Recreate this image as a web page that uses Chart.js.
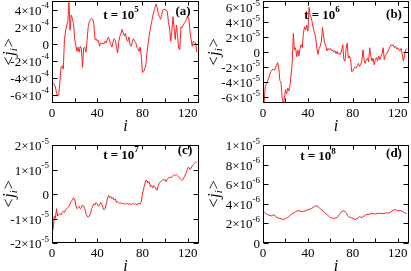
<!DOCTYPE html>
<html><head><meta charset="utf-8">
<script src="https://cdn.jsdelivr.net/npm/chart.js@4"></script>
<style>
body{margin:0;background:#fff;width:411px;height:271px;overflow:hidden;position:relative}
canvas{position:absolute}
</style></head><body>
<canvas id="ca" width="205" height="135" style="left:0;top:0"></canvas>
<canvas id="cb" width="206" height="135" style="left:205px;top:0"></canvas>
<canvas id="cc" width="205" height="136" style="left:0;top:135px"></canvas>
<canvas id="cd" width="206" height="136" style="left:205px;top:135px"></canvas>
<script>
// x tick labels
const xTicks = [0, 40, 80, 120];
const xMinor = [20, 60, 100];

// panel (a): t = 10^5, values in units of 1e-4 (i = 1..128)
const aVals = [-4.6,-4.8,-5.1,-5.8,-6.2,-5.9,-4.5,-2.8,-2.6,-3.0,0.5,1.5,2.2,2.6,4.9,1.6,3.4,3.0,2.4,0.6,
 -0.2,-0.9,-0.4,-1.0,-0.3,-0.6,-2.8,-0.5,-0.4,-1.0,0.4,2.0,2.6,2.9,3.0,2.9,2.3,0.5,0.6,0.3,
 0.4,-0.3,0.1,0.0,0.1,0.0,0.3,0.1,0.6,0.8,0.3,-0.1,-0.4,0.2,0.6,0.4,-0.3,-1.1,0.2,0.9,
 1.2,1.7,1.3,0.9,1.2,0.5,0.3,0.8,-0.1,-0.3,0.2,0.6,0.3,0.2,-0.4,-0.6,-0.9,-0.4,-1.5,-3.4,
 -3.3,-3.0,-2.5,-1.0,0.0,1.0,1.8,2.5,3.2,3.8,4.2,4.7,4.3,3.6,3.2,2.9,3.4,4.0,4.1,4.0,
 4.0,3.8,2.5,1.8,0.3,1.5,3.2,1.8,0.5,2.2,1.0,-0.5,-0.7,2.0,1.9,2.2,2.4,2.6,2.9,3.2,
 3.0,1.5,0.5,-0.3,0.3,0.2,0.1,-1.0];
const aTicks = [-6e-4, -4e-4, -2e-4, 0, 2e-4, 4e-4];

// panel (b): t = 10^6, values in units of 1e-5
const bVals = [-6.8,-4.6,-4.2,-3.9,-3.5,-3.0,-2.6,-2.4,-2.3,-2.4,-2.1,-1.8,-1.4,-2.0,-3.8,-4.0,-6.0,-6.8,-6.3,-5.0,
 -5.6,-4.8,-5.2,-4.5,-3.0,-1.5,2.5,0.3,0.6,-0.6,0.3,-0.5,0.5,1.0,0.6,2.6,3.4,3.0,3.6,2.8,
 6.0,4.8,4.6,3.8,3.0,2.5,1.8,0.5,-0.3,0.5,0.8,1.5,3.3,2.0,1.2,0.8,0.2,0.5,0.3,0.5,
 0.2,0.3,0.0,0.2,-0.2,0.1,-0.3,-0.1,-0.3,0.3,1.0,-1.0,-1.2,0.5,1.2,-0.8,-0.5,-1.0,-2.6,-2.5,
 -2.2,-2.0,-2.1,-1.8,-1.5,-1.9,-1.6,-1.2,0.3,-1.0,-1.5,-1.0,-0.8,-1.3,0.6,-0.5,-1.2,-0.8,-1.7,-1.0,
 -0.7,-1.2,-0.5,-1.0,-0.6,-0.2,0.6,-1.0,-0.4,-0.3,0.0,0.4,0.7,1.0,0.9,1.0,0.6,0.8,0.4,0.6,
 0.3,0.2,0.5,-0.3,-1.2,-0.5,0.3,0.5];
const bTicks = [-6e-5, -4e-5, -2e-5, 0, 2e-5, 4e-5, 6e-5];

// panel (c): t = 10^7, values in units of 1e-5
const cVals = [-1.45,-0.9,-1.0,-0.6,-0.9,-0.85,-0.8,-0.85,-0.75,-0.7,-0.75,-0.65,-0.6,-0.55,-0.5,-0.4,-0.3,-0.25,-0.15,-0.2,
 -0.45,-0.6,-0.55,-0.5,-0.6,-0.55,-0.45,-0.5,-0.6,-0.8,-0.9,-0.95,-0.9,-0.8,-0.6,-0.5,-0.4,-0.45,-0.35,-0.4,
 -0.5,-0.45,-0.35,-0.4,-0.55,-0.65,-0.6,-0.4,-0.2,-0.05,-0.15,-0.1,-0.2,-0.15,-0.25,-0.2,-0.35,-0.3,-0.35,-0.4,
 -0.35,-0.4,-0.38,-0.42,-0.4,-0.38,-0.4,-0.42,-0.4,-0.43,-0.4,-0.38,-0.42,-0.4,-0.43,-0.42,-0.38,-0.4,-0.3,0.0,
 0.2,0.4,0.55,0.55,0.45,0.5,0.3,0.35,0.25,0.35,0.3,0.2,0.15,0.35,0.45,0.5,0.55,0.6,0.55,0.6,
 0.5,0.6,0.65,0.7,0.65,0.7,0.75,0.8,0.75,0.8,0.75,0.7,0.65,0.6,0.55,0.6,0.7,0.8,0.9,1.05,
 1.1,1.0,1.05,1.15,1.2,1.25,1.3,1.3];
const cTicks = [-2e-5, -1e-5, 0, 1e-5, 2e-5];

// panel (d): t = 10^8, values in units of 1e-6
const dI = [1,3,5,8,10,12,15,18,20,22,24,26,28,30,32,35,38,40,43,46,48,50,52,55,58,60,63,66,68,70,72,74,76,78,80,82,84,86,88,90,92,95,98,100,103,106,108,110,112,114,116,118,120,122,124,126,128];
const dVals = [3.2,2.95,2.85,2.75,2.9,2.6,2.5,2.4,2.5,2.6,2.8,3.0,3.1,3.25,3.3,3.2,3.3,3.4,3.5,3.75,3.8,3.6,3.4,3.1,2.8,2.6,2.5,2.6,2.9,3.2,3.3,3.1,2.7,2.6,2.5,2.4,2.5,2.7,2.6,2.75,2.9,2.95,3.0,2.95,3.05,3.0,3.0,3.1,3.05,3.2,3.35,3.4,3.3,3.3,3.25,3.1,3.0];
const dTicks = [0, 2e-6, 4e-6, 6e-6, 8e-6, 1e-5];

const SERIF = '"Liberation Serif","DejaVu Serif",serif';

function seq(vals, unit, idx) {
  return vals.map((v, k) => ({x: idx ? idx[k] : k + 1, y: v * unit}));
}

const panels = [
  {id:'ca', pts:seq(aVals,1e-4), ymin:-7e-4, ymax:5.05e-4, ticks:aTicks, tag:'(a)', texp:'5',
   pad:{left:0,top:1,right:6}, yw:52, xh:32, tpos:[121,14], gpos:[183,10], ytx:9},
  {id:'cb', pts:seq(bVals,1e-5), ymin:-6.8e-5, ymax:6.85e-5, ticks:bTicks, tag:'(b)', texp:'6',
   pad:{left:0,top:1,right:2}, yw:58, xh:32, tpos:[117,14], gpos:[189,13.5], ytx:9},
  {id:'cc', pts:seq(cVals,1e-5), ymin:-2e-5, ymax:2e-5, ticks:cTicks, tag:'(c)', texp:'7',
   pad:{left:0,top:10,right:6}, yw:52, xh:28, tpos:[121,19], gpos:[185,14.5], ytx:9},
  {id:'cd', pts:seq(dVals,1e-6,dI), ymin:0, ymax:1e-5, ticks:dTicks, tag:'(d)', texp:'8',
   pad:{left:0,top:10,right:2}, yw:58, xh:28, tpos:[113,20.5], gpos:[189,17.5], ytx:9}
];

function sci(v) {
  if (v === 0) return {m:'0', e:null};
  const e = Math.floor(Math.log10(Math.abs(v)) + 1e-9);
  const m = Math.round(v / Math.pow(10, e));
  return {m: m + '\u00d710', e: String(e)};
}

function makePlugin(p) {
  return {
    id: 'decor' + p.id,
    afterDraw(chart) {
      const ctx = chart.ctx, a = chart.chartArea;
      const xs = chart.scales.x, ys = chart.scales.y;
      const L = Math.round(a.left) + 0.5, R = Math.round(a.right) - 0.5;
      const T = Math.round(a.top) + 0.5, B = Math.round(a.bottom) - 0.5;
      ctx.save();
      ctx.strokeStyle = '#000'; ctx.lineWidth = 1;
      ctx.strokeRect(L, T, R - L, B - T);
      ctx.beginPath();
      xTicks.concat(xMinor).forEach(v => {
        const px = Math.round(xs.getPixelForValue(v)) + 0.5;
        ctx.moveTo(px, B); ctx.lineTo(px, B - 4);
        ctx.moveTo(px, T); ctx.lineTo(px, T + 4);
      });
      p.ticks.forEach(v => {
        const py = Math.round(ys.getPixelForValue(v)) + 0.5;
        ctx.moveTo(L, py); ctx.lineTo(L + 5, py);
        ctx.moveTo(R, py); ctx.lineTo(R - 5, py);
      });
      ctx.stroke();
      ctx.fillStyle = '#000';
      // x tick labels
      ctx.font = '13px ' + SERIF; ctx.textAlign = 'center'; ctx.textBaseline = 'alphabetic';
      xTicks.forEach(v => ctx.fillText(String(v), xs.getPixelForValue(v), a.bottom + 13.5));
      // y tick labels
      p.ticks.forEach(v => {
        const py = ys.getPixelForValue(v);
        const s = sci(v);
        let x = a.left - 3;
        ctx.textAlign = 'right';
        if (s.e) {
          ctx.font = '9px ' + SERIF;
          ctx.fillText(s.e, x, py - 1.5);
          x -= ctx.measureText(s.e).width;
        }
        ctx.font = '13px ' + SERIF;
        ctx.fillText(s.m, x, py + 5);
      });
      // x title
      ctx.font = 'italic 16px ' + SERIF; ctx.textAlign = 'center';
      ctx.fillText('i', (a.left + a.right) / 2, a.bottom + 28);
      // y title <j_i>
      ctx.save();
      ctx.translate(p.ytx, (a.top + a.bottom) / 2);
      ctx.rotate(-Math.PI / 2);
      ctx.textAlign = 'left';
      ctx.font = 'italic 16px ' + SERIF;
      const w1 = ctx.measureText('<j').width, w3 = ctx.measureText('>').width;
      ctx.font = 'italic 11px ' + SERIF;
      const w2 = ctx.measureText('i').width;
      let sx = -(w1 + w2 + w3) / 2;
      ctx.font = 'italic 16px ' + SERIF;
      ctx.fillText('<j', sx, 5);
      ctx.font = 'italic 11px ' + SERIF;
      ctx.fillText('i', sx + w1, 8);
      ctx.font = 'italic 16px ' + SERIF;
      ctx.fillText('>', sx + w1 + w2, 5);
      ctx.restore();
      // t = 10^n
      ctx.font = 'bold 13px ' + SERIF;
      const tw = ctx.measureText('t = 10').width;
      ctx.font = 'bold 9px ' + SERIF;
      const ew = ctx.measureText(p.texp).width;
      let tx = p.tpos[0] - (tw + ew) / 2;
      ctx.textAlign = 'left';
      ctx.font = 'bold 13px ' + SERIF;
      ctx.fillText('t = 10', tx, p.tpos[1] + 4.5);
      ctx.font = 'bold 9px ' + SERIF;
      ctx.fillText(p.texp, tx + tw, p.tpos[1] - 2);
      // panel tag
      ctx.font = 'bold 13px ' + SERIF; ctx.textAlign = 'center';
      ctx.fillText(p.tag, p.gpos[0], p.gpos[1] + 4.5);
      ctx.restore();
    }
  };
}

panels.forEach(p => {
  new Chart(document.getElementById(p.id), {
    type: 'line',
    data: {datasets: [{data: p.pts, borderColor: '#ff2020', borderWidth: 1, pointRadius: 0, tension: 0, fill: false}]},
    options: {
      responsive: false, animation: false, events: [],
      layout: {padding: {left: p.pad.left, top: p.pad.top, right: p.pad.right, bottom: 0}},
      plugins: {legend: {display: false}, tooltip: {enabled: false}},
      scales: {
        x: {type: 'linear', min: 0, max: 130, ticks: {display: false}, grid: {display: false}, border: {display: false},
            afterFit: s => { s.height = p.xh; }},
        y: {type: 'linear', min: p.ymin, max: p.ymax, ticks: {display: false}, grid: {display: false}, border: {display: false},
            afterFit: s => { s.width = p.yw; }}
      }
    },
    plugins: [makePlugin(p)]
  });
});
</script>
</body></html>
